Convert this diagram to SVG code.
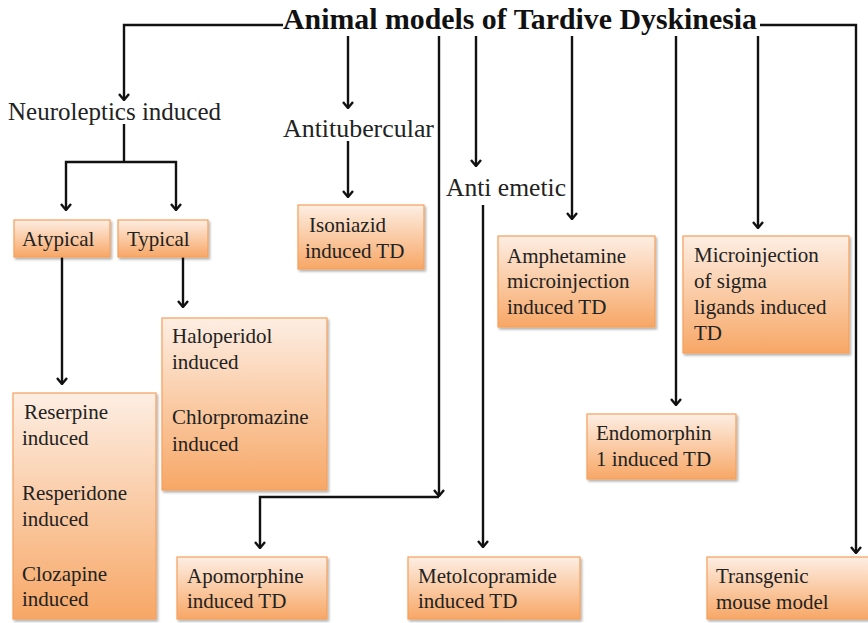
<svg xmlns="http://www.w3.org/2000/svg" width="868" height="623" viewBox="0 0 868 623">
<defs>
<linearGradient id="g" x1="0" y1="0" x2="0" y2="1">
<stop offset="0" stop-color="#fdeee3"/>
<stop offset="1" stop-color="#f7a766"/>
</linearGradient>
<filter id="sh" x="-10%" y="-10%" width="130%" height="130%">
<feDropShadow dx="1.5" dy="2" stdDeviation="1.2" flood-color="#000" flood-opacity="0.3"/>
</filter>
<marker id="ad" viewBox="0 0 12 12" refX="6" refY="11" markerWidth="12" markerHeight="12" markerUnits="userSpaceOnUse" orient="0">
<path d="M1,5 L6,11 L11,5" fill="none" stroke="#111" stroke-width="2.4"/>
</marker>
</defs>
<style>
.box{fill:url(#g);stroke:#f5a05a;stroke-width:1.2;filter:url(#sh)}
.t{font-family:"Liberation Serif","Times New Roman",serif;font-size:21px;fill:#222}
.l{font-family:"Liberation Serif","Times New Roman",serif;font-size:25px;fill:#222}
.ti{font-family:"Liberation Serif","Times New Roman",serif;font-size:29px;font-weight:bold;fill:#111}
.c{fill:none;stroke:#111;stroke-width:2.4}
.a{marker-end:url(#ad)}
</style>
<rect width="868" height="623" fill="#fff"/>

<g id="title"><text class="ti" x="283" y="29" textLength="474" lengthAdjust="spacingAndGlyphs">Animal models of Tardive Dyskinesia</text></g>

<g id="connectors">
<polyline class="c a" points="283,25 124,25 124,100"/>
<line class="c a" x1="348" y1="36" x2="348" y2="108"/>
<line class="c a" x1="348" y1="141" x2="348" y2="197"/>
<polyline class="c" points="124,124 124,162"/>
<polyline class="c a" points="124,162 66,162 66,210"/>
<polyline class="c a" points="124,162 176,162 176,210"/>
<line class="c a" x1="62" y1="257" x2="62" y2="384"/>
<line class="c a" x1="183" y1="257" x2="183" y2="307"/>
<line class="c a" x1="439" y1="36" x2="439" y2="496"/>
<polyline class="c a" points="439,497 260,497 260,548"/>
<line class="c a" x1="476" y1="36" x2="476" y2="166"/>
<line class="c a" x1="483" y1="205" x2="483" y2="547"/>
<line class="c a" x1="572" y1="36" x2="572" y2="219"/>
<line class="c a" x1="676" y1="36" x2="676" y2="405"/>
<line class="c a" x1="758" y1="36" x2="758" y2="228"/>
<polyline class="c a" points="760,25 856,25 856,553"/>
</g>

<g id="neuroleptics"><text class="l" x="8" y="120" textLength="213" lengthAdjust="spacingAndGlyphs">Neuroleptics induced</text></g>
<g id="antitubercular"><text class="l" x="283" y="137" textLength="151" lengthAdjust="spacingAndGlyphs">Antitubercular</text></g>
<g id="antiemetic"><text class="l" x="446" y="196" textLength="120" lengthAdjust="spacingAndGlyphs">Anti emetic</text></g>

<g id="atypical"><rect class="box" x="14" y="220" width="96" height="37"/><text class="t" x="22" y="246">Atypical</text></g>
<g id="typical"><rect class="box" x="118" y="220" width="90" height="37"/><text class="t" x="127" y="246">Typical</text></g>
<g id="isoniazid"><rect class="box" x="298" y="205" width="126" height="64"/><text class="t" x="309" y="232">Isoniazid</text><text class="t" x="305" y="258">induced TD</text></g>
<g id="haloperidol"><rect class="box" x="162" y="318" width="165" height="172"/><text class="t" x="172" y="343">Haloperidol</text><text class="t" x="172" y="369">induced</text><text class="t" x="172" y="424">Chlorpromazine</text><text class="t" x="172" y="451">induced</text></g>
<g id="reserpine"><rect class="box" x="13" y="393" width="143" height="226"/><text class="t" x="24" y="419">Reserpine</text><text class="t" x="22" y="445">induced</text><text class="t" x="22" y="500">Resperidone</text><text class="t" x="22" y="526">induced</text><text class="t" x="22" y="581">Clozapine</text><text class="t" x="22" y="606">induced</text></g>
<g id="apomorphine"><rect class="box" x="177" y="557" width="150" height="62"/><text class="t" x="187" y="583">Apomorphine</text><text class="t" x="187" y="608">induced TD</text></g>
<g id="metolcopramide"><rect class="box" x="408" y="557" width="172" height="62"/><text class="t" x="418" y="583">Metolcopramide</text><text class="t" x="418" y="608">induced TD</text></g>
<g id="amphetamine"><rect class="box" x="498" y="236" width="157" height="91"/><text class="t" x="507" y="263">Amphetamine</text><text class="t" x="507" y="288">microinjection</text><text class="t" x="507" y="314">induced TD</text></g>
<g id="sigma"><rect class="box" x="683" y="236" width="166" height="117"/><text class="t" x="694" y="262">Microinjection</text><text class="t" x="694" y="288">of sigma</text><text class="t" x="694" y="314">ligands induced</text><text class="t" x="694" y="340">TD</text></g>
<g id="endomorphin"><rect class="box" x="587" y="414" width="149" height="65"/><text class="t" x="596" y="440">Endomorphin</text><text class="t" x="596" y="466">1 induced TD</text></g>
<g id="transgenic"><rect class="box" x="707" y="557" width="163" height="62"/><text class="t" x="716" y="583">Transgenic</text><text class="t" x="716" y="609">mouse model</text></g>
</svg>
